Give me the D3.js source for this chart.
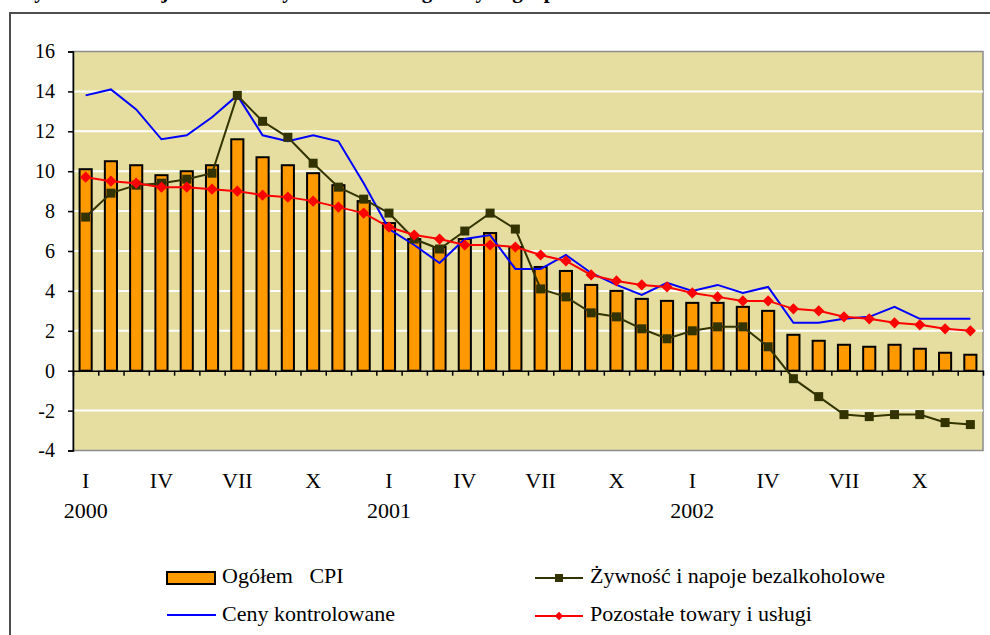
<!DOCTYPE html>
<html lang="pl">
<head>
<meta charset="utf-8">
<title>Inflacja CPI 2000-2002</title>
<script src="https://d3js.org/d3.v7.min.js"></script>
<style type="text/css">
  body { margin: 0; background: #fff; }
  svg { width: 990px; height: 635px; display: block; }
  .title { font-size: 21px; font-weight: bold; }
  .ylab { font-size: 20px; }
  .xlab { font-size: 22px; }
  .legend { font-size: 22px; white-space: pre; }
</style>
</head>
<body>
<svg></svg>
<script type="text/javascript">

// months 2000-2002, roman numerals shown only every quarter
const monthLabels = ["I","","","IV","","","VII","","","X","","",
                     "I","","","IV","","","VII","","","X","","",
                     "I","","","IV","","","VII","","","X","",""];
const yearLabels = ["2000","","","","","","","","","","","",
                    "2001","","","","","","","","","","","",
                    "2002","","","","","","","","","","",""];

const cpi = [10.1,10.5,10.3,9.8,10.0,10.3,11.6,10.7,10.3,9.9,9.3,8.5,
             7.4,6.6,6.2,6.6,6.9,6.2,5.2,5.0,4.3,4.0,3.6,3.5,
             3.4,3.4,3.2,3.0,1.8,1.5,1.3,1.2,1.3,1.1,0.9,0.8];
const food = [7.7,8.9,9.3,9.4,9.6,9.9,13.8,12.5,11.7,10.4,9.2,8.6,
              7.9,6.6,6.1,7.0,7.9,7.1,4.1,3.7,2.9,2.7,2.1,1.6,
              2.0,2.2,2.2,1.2,-0.4,-1.3,-2.2,-2.3,-2.2,-2.2,-2.6,-2.7];
const controlled = [13.8,14.1,13.1,11.6,11.8,12.7,13.8,11.8,11.5,11.8,11.5,9.4,
                    7.1,6.3,5.4,6.6,6.8,5.1,5.1,5.8,4.9,4.3,3.8,4.4,
                    4.0,4.3,3.9,4.2,2.4,2.4,2.6,2.7,3.2,2.6,2.6,2.6];
const other = [9.7,9.5,9.4,9.2,9.2,9.1,9.0,8.8,8.7,8.5,8.2,7.9,
               7.2,6.8,6.6,6.3,6.3,6.2,5.8,5.5,4.8,4.5,4.3,4.2,
               3.9,3.7,3.5,3.5,3.1,3.0,2.7,2.6,2.4,2.3,2.1,2.0];
const yTicks = [-4,-2,0,2,4,6,8,10,12,14,16];

const plotLeft = 73, plotRight = 983, plotTop = 51.5, plotBottom = 450.5;
const serif = "'Liberation Serif', 'Times New Roman', Times, serif";

const svg = d3.select("svg");

// outer frame (page crop - runs off right/bottom)
svg.append("rect")
   .attr("x", 10).attr("y", 13)
   .attr("width", 1000).attr("height", 700)
   .attr("fill", "none")
   .attr("stroke", "#4d4d4d")
   .attr("stroke-width", 2);

// title of the figure, cut off by the page top in the original
svg.append("text")
   .attr("class", "title")
   .attr("x", 14).attr("y", -2)
   .text("Wykres 1. Inflacja CPI oraz dynamika cen w głównych grupach");

const x = d3.scaleBand()
            .domain(d3.range(cpi.length))
            .range([plotLeft, plotRight]);
const xl = d3.scaleLinear().domain([0, cpi.length]).range([plotLeft, plotRight]);
const y = d3.scaleLinear().domain([-4, 16]).range([plotBottom, plotTop]);

// plot area
svg.append("rect")
   .attr("x", plotLeft).attr("y", y(16))
   .attr("width", plotRight - plotLeft).attr("height", y(-4) - y(16))
   .attr("fill", "#E5DEA0")
   .attr("stroke", "#8c8c8c")
   .attr("stroke-width", 1.5);

// gridlines
svg.append("g")
   .selectAll("line")
   .data(yTicks.filter(d => d > -4 && d < 16 && d !== 0))
   .enter()
   .append("line")
   .attr("x1", plotLeft).attr("x2", plotRight)
   .attr("y1", d => y(d)).attr("y2", d => y(d))
   .attr("stroke", "#fff")
   .attr("stroke-width", 2);

// bars
const bw = x.bandwidth() * 0.48;
svg.append("g")
   .selectAll("rect")
   .data(cpi)
   .enter()
   .append("rect")
   .attr("x", (d, i) => x(i) + (x.bandwidth() - bw) / 2)
   .attr("y", d => y(d))
   .attr("width", bw)
   .attr("height", d => y(0) - y(d))
   .attr("fill", "#FF9900")
   .attr("stroke", "#000")
   .attr("stroke-width", 2);

// y axis
const yAxis = svg.append("g")
   .attr("transform", "translate(" + plotLeft + ",0)")
   .call(d3.axisLeft(y).tickValues(yTicks).tickSize(5).tickPadding(13).tickFormat(d => String(d)));
yAxis.attr("font-size", null).attr("font-family", null);
yAxis.selectAll("text").attr("class", "ylab");
yAxis.selectAll("line, path").attr("stroke", "#000").attr("stroke-width", 1.5);

// x axis at zero, ticks between months
const xAxis = svg.append("g")
   .attr("transform", "translate(0," + y(0) + ")")
   .call(d3.axisBottom(xl).tickValues(d3.range(cpi.length + 1)).tickSize(5).tickSizeOuter(0).tickFormat(""));
xAxis.selectAll("line, path").attr("stroke", "#000").attr("stroke-width", 1.5);

// month and year labels
const cx = i => x(i) + x.bandwidth() / 2;
svg.append("g")
   .selectAll("text")
   .data(monthLabels)
   .enter()
   .append("text")
   .attr("class", "xlab")
   .attr("x", (d, i) => cx(i))
   .attr("y", 488)
   .attr("text-anchor", "middle")
   .text(d => d);
svg.append("g")
   .selectAll("text")
   .data(yearLabels)
   .enter()
   .append("text")
   .attr("class", "xlab")
   .attr("x", (d, i) => cx(i))
   .attr("y", 518)
   .attr("text-anchor", "middle")
   .text(d => d);

// lines
const line = d3.line().x((d, i) => cx(i)).y(d => y(d));

svg.append("path")
   .attr("d", line(controlled))
   .attr("fill", "none")
   .attr("stroke", "#0000FF")
   .attr("stroke-width", 2);

svg.append("path")
   .attr("d", line(food))
   .attr("fill", "none")
   .attr("stroke", "#333300")
   .attr("stroke-width", 2);
svg.append("g")
   .selectAll("rect")
   .data(food)
   .enter()
   .append("rect")
   .attr("x", (d, i) => cx(i) - 4.5)
   .attr("y", d => y(d) - 4.5)
   .attr("width", 9).attr("height", 9)
   .attr("fill", "#333300");

svg.append("path")
   .attr("d", line(other))
   .attr("fill", "none")
   .attr("stroke", "#FF0000")
   .attr("stroke-width", 2);
svg.append("g")
   .selectAll("path")
   .data(other)
   .enter()
   .append("path")
   .attr("d", d3.symbol().type(d3.symbolDiamond2).size(80))
   .attr("transform", (d, i) => "translate(" + cx(i) + "," + y(d) + ")")
   .attr("fill", "#FF0000");

// legend
const lg = svg.append("g");
lg.append("rect")
  .attr("x", 167).attr("y", 572).attr("width", 48).attr("height", 12)
  .attr("fill", "#FF9900").attr("stroke", "#000").attr("stroke-width", 2);
lg.append("text").attr("class", "legend").attr("x", 222).attr("y", 583).text("Ogółem   CPI");

lg.append("line")
  .attr("x1", 167).attr("x2", 216).attr("y1", 615).attr("y2", 615)
  .attr("stroke", "#0000FF").attr("stroke-width", 2);
lg.append("text").attr("class", "legend").attr("x", 222).attr("y", 621).text("Ceny kontrolowane");

lg.append("line")
  .attr("x1", 535).attr("x2", 583).attr("y1", 578).attr("y2", 578)
  .attr("stroke", "#333300").attr("stroke-width", 2);
lg.append("rect")
  .attr("x", 555).attr("y", 574).attr("width", 8).attr("height", 8)
  .attr("fill", "#333300");
lg.append("text").attr("class", "legend").attr("x", 590).attr("y", 583).text("Żywność i napoje bezalkoholowe");

lg.append("line")
  .attr("x1", 535).attr("x2", 583).attr("y1", 616).attr("y2", 616)
  .attr("stroke", "#FF0000").attr("stroke-width", 2);
lg.append("path")
  .attr("d", d3.symbol().type(d3.symbolDiamond2).size(45))
  .attr("transform", "translate(559,616)")
  .attr("fill", "#FF0000");
lg.append("text").attr("class", "legend").attr("x", 590).attr("y", 621).text("Pozostałe towary i usługi");

// one serif face for every text
svg.selectAll("text")
   .attr("font-family", serif)
   .style("font-family", serif)
   .attr("fill", "#000");

</script>
</body>
</html>
